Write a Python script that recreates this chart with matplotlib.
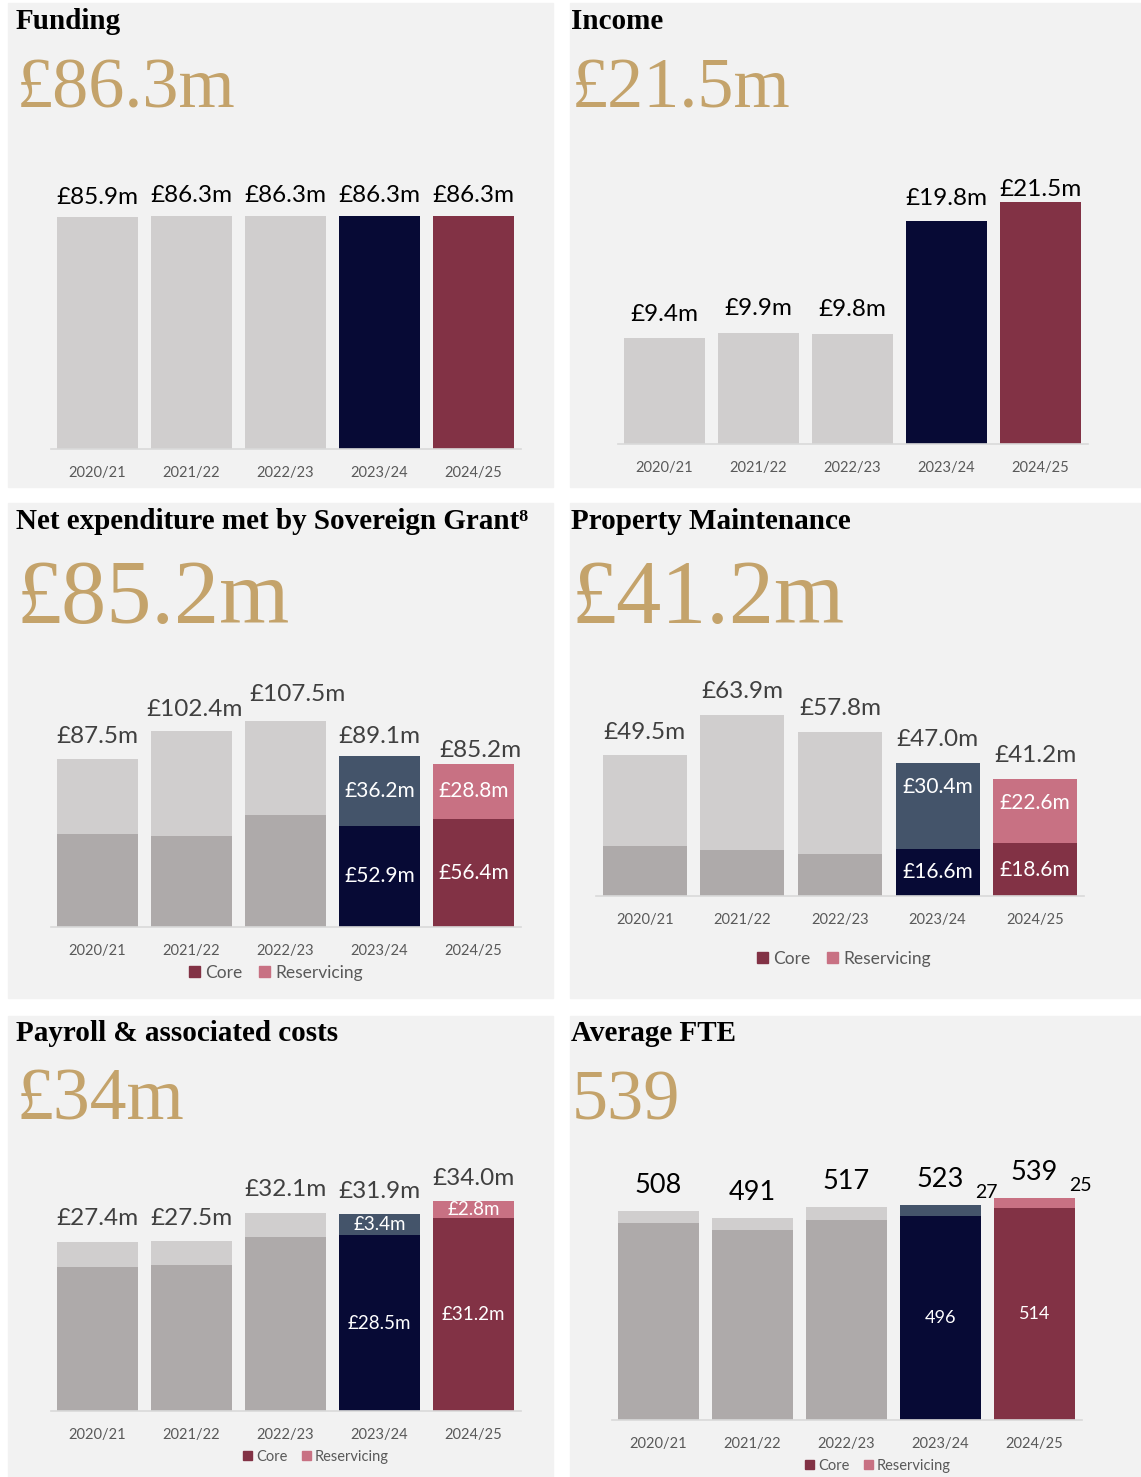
import numpy as np
import matplotlib.pyplot as plt
from matplotlib.patches import Rectangle, Patch

# ---- data ----
years = ['2020/21', '2021/22', '2022/23', '2023/24', '2024/25']

funding = [85.9, 86.3, 86.3, 86.3, 86.3]
income = [9.4, 9.9, 9.8, 19.8, 21.5]

net_total = [87.5, 102.4, 107.5, 89.1, 85.2]
net_core = [48.4, 47.3, 58.3, 52.9, 56.4]

prop_total = [49.5, 63.9, 57.8, 47.0, 41.2]
prop_core = [17.6, 16.1, 14.7, 16.6, 18.6]

pay_total = [27.4, 27.5, 32.1, 31.9, 34.0]
pay_core = [23.3, 23.7, 28.2, 28.5, 31.2]

fte_total = [508, 491, 517, 523, 539]
fte_core = [478, 461, 485, 496, 514]

titles = ['Funding', 'Income', 'Net expenditure met by Sovereign Grant\u2078',
          'Property Maintenance', 'Payroll & associated costs', 'Average FTE']
headlines = ['£86.3m', '£21.5m', '£85.2m', '£41.2m', '£34m', '539']
legend_labels = ['Core', 'Reservicing']

# ---- style ----
BG = '#f2f2f2'
LIGHT = '#d0cece'
MID = '#aeaaaa'
NAVY = '#070a35'
SLATE = '#44546a'
MAROON = '#823245'
PINK = '#c87183'
GOLD = '#c4a36b'
AXIS = '#d9d9d9'
TICK = '#595959'
DARK = '#404040'

core_colors = [MID, MID, MID, NAVY, MAROON]
res_colors = [LIGHT, LIGHT, LIGHT, SLATE, PINK]
single_colors = [LIGHT, LIGHT, LIGHT, NAVY, MAROON]

SANS = 'Lato'
SERIF = 'Liberation Serif'

W, H = 1141, 1477
fig = plt.figure(figsize=(W / 100, H / 100), dpi=100)
fig.patch.set_facecolor('white')


def fx(px):
    return px / W


def fy(py):
    return 1 - py / H


def panel(box, text_x, title, headline, head_size, title_base, head_base):
    x0, y0, x1, y1 = box
    fig.patches.append(Rectangle((fx(x0), fy(y1)), (x1 - x0) / W, (y1 - y0) / H,
                                 transform=fig.transFigure, color=BG, zorder=-10))
    fig.text(fx(text_x), fy(title_base), title, family=SERIF, weight='bold',
             fontsize=21, va='baseline', ha='left', color='black')
    fig.text(fx(text_x + 1), fy(head_base), headline, family=SERIF, fontsize=head_size,
             va='baseline', ha='left', color=GOLD)


def bar_axes(x0, x1, y_top, y_base, ymax):
    ax = fig.add_axes([fx(x0), fy(y_base), (x1 - x0) / W, (y_base - y_top) / H])
    ax.patch.set_alpha(0)
    ax.set_xlim(-0.5, 4.5)
    ax.set_ylim(0, ymax)
    for s in ['top', 'left', 'right']:
        ax.spines[s].set_visible(False)
    ax.spines['bottom'].set_color(AXIS)
    ax.spines['bottom'].set_linewidth(1.2)
    ax.set_yticks([])
    ax.set_xticks(range(len(years)))
    ax.set_xticklabels(years, fontsize=10.5, color=TICK, family=SANS)
    ax.tick_params(axis='x', length=0, pad=12)
    return ax


def totals(ax, vals, dys, dxs=None, fmt='£{:.1f}m', size=17.5, color='black'):
    if dxs is None:
        dxs = [0] * len(vals)
    for i, v in enumerate(vals):
        ax.annotate(fmt.format(v), xy=(i, v), xytext=(dxs[i], dys[i]),
                    textcoords='offset pixels', ha='center', va='center',
                    fontsize=size, color=color, family=SANS)


def stacked(ax, core, total, width):
    core = np.array(core, dtype=float)
    res = np.array(total, dtype=float) - core
    ax.bar(range(len(years)), core, width=width, color=core_colors, zorder=2)
    ax.bar(range(len(years)), res, width=width, bottom=core, color=res_colors, zorder=2)
    return core, res


def inside(ax, core, res, size, res_dy=(0, 0), fmt='£{:.1f}m', show_res=True):
    for k, i in enumerate([3, 4]):
        ax.annotate(fmt.format(core[i]), xy=(i, core[i] / 2), xytext=(0, 0),
                    textcoords='offset pixels', ha='center', va='center',
                    fontsize=size, color='white', family=SANS)
        if show_res:
            ax.annotate(fmt.format(res[i]), xy=(i, core[i] + res[i] / 2),
                        xytext=(0, res_dy[k]), textcoords='offset pixels',
                        ha='center', va='center', fontsize=size, color='white',
                        family=SANS)


def legend(ax, cx, cy, size):
    handles = [Patch(color=MAROON), Patch(color=PINK)]
    ax.legend(handles, legend_labels, loc='center', bbox_to_anchor=(fx(cx), fy(cy)),
              bbox_transform=fig.transFigure, ncol=2, frameon=False,
              handlelength=0.6, handleheight=0.6, handletextpad=0.3,
              columnspacing=1.0, borderpad=0, labelcolor=TICK,
              prop={'family': SANS, 'size': size})


# ---- Funding ----
panel((8, 3, 553, 487), 16, titles[0], headlines[0], 52, 29, 108)
ax = bar_axes(50.5, 520.5, 179, 449, 100)
ax.bar(range(len(years)), funding, width=0.862, color=single_colors, zorder=2)
totals(ax, funding, [20] * 5)

# ---- Income ----
panel((570, 3, 1141, 487), 571, titles[1], headlines[1], 52, 29, 108)
ax = bar_axes(617.5, 1087.5, 173.8, 444, 24)
ax.bar(range(len(years)), income, width=0.862, color=single_colors, zorder=2)
totals(ax, income, [24, 24, 24, 23, 12])

# ---- Net expenditure ----
panel((8, 503, 553, 998), 16, titles[2], headlines[2], 65, 529, 623)
ax = bar_axes(50.5, 520.5, 697, 927, 120)
c, r = stacked(ax, net_core, net_total, 0.862)
totals(ax, net_total, [23, 21, 26, 20, 13], [0, 3, 12, 0, 7], color=DARK)
inside(ax, c, r, 15)
legend(ax, 276, 973, 12.5)

# ---- Property Maintenance ----
panel((570, 503, 1141, 998), 571, titles[3], headlines[3], 65, 529, 623)
ax = bar_axes(596, 1084, 697.2, 896, 70)
c, r = stacked(ax, prop_core, prop_total, 0.861)
totals(ax, prop_total, [23] * 5, color=DARK)
inside(ax, c, r, 15, res_dy=(19, 8))
legend(ax, 844, 959, 12.5)

# ---- Payroll ----
panel((8, 1016, 553, 1477), 16, titles[4], headlines[4], 53, 1041, 1120)
ax = bar_axes(50.5, 520.5, 1164, 1411, 40)
c, r = stacked(ax, pay_core, pay_total, 0.862)
totals(ax, pay_total, [23] * 5, color=DARK)
inside(ax, c, r, 13.5)
legend(ax, 316, 1457, 10.5)

# ---- Average FTE ----
panel((570, 1016, 1141, 1477), 571, titles[5], headlines[5], 52, 1041, 1120)
ax = bar_axes(611.5, 1081.5, 1172.8, 1420, 600)
c, r = stacked(ax, fte_core, fte_total, 0.862)
totals(ax, fte_total, [25] * 5, fmt='{:d}', size=19.5)
inside(ax, c, r, 13, fmt='{:.0f}', show_res=False)
for i in [3, 4]:
    ax.annotate('{:.0f}'.format(r[i]), xy=(i, fte_total[i]), xytext=(46, 12),
                textcoords='offset pixels', ha='center', va='center',
                fontsize=14, color='black', family=SANS)
legend(ax, 878, 1466, 10.5)

fig.savefig('out.png', dpi=100, facecolor='white')
